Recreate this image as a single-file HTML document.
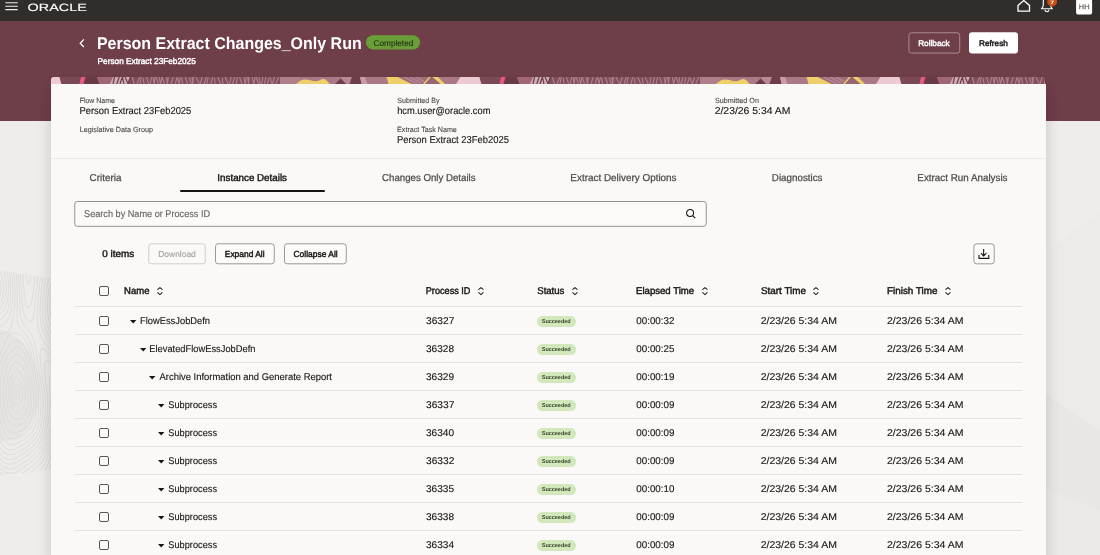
<!DOCTYPE html>
<html lang="en">
<head>
<meta charset="utf-8">
<title>Person Extract Changes_Only Run</title>
<style>
*{box-sizing:border-box;margin:0;padding:0}
html,body{width:1100px;height:555px;overflow:hidden}
body{font-family:"Liberation Sans",sans-serif;background:#efedeb;color:#161513;position:relative;text-rendering:geometricPrecision}
.abs,.t,.hl,.cb,.st,.a{position:absolute}
.t{white-space:pre;transform-origin:0 0;font-weight:400;margin:0}
.hl{left:75px;width:947px;height:1px;background:#e4e1de}
.cb{left:99px;width:10px;height:10px;border:1px solid #57524e;border-radius:2px;background:#fdfcfc}
.st{left:537px;width:38.5px;height:11px;border-radius:5.5px;background:#d2e7bc}
.a{overflow:visible}
</style>
</head>
<body>

<div class="abs" style="left:0;top:0;width:1100px;height:21px;background:#312d2a"></div>
<div class="abs" style="left:0;top:21px;width:1100px;height:100px;background:#6e3e49"></div>
<svg class="abs" style="left:0;top:121px" width="51" height="434" viewBox="0 121 51 434" fill="none">
<defs><clipPath id="lc"><path d="M0 270.5L51 278V470L0 476Z"/></clipPath></defs>
<g clip-path="url(#lc)">
<path d="M0 270.5L51 278V470L0 476Z" fill="#edebe9"/>
<path d="M0 330C14 332 30 345 38 372C44 396 36 424 20 436C12 441 4 442 0 442Z" fill="#e6e4e1"/>
<path d="M16.3 393.0L16.7 392.0L16.3 391.0L16.0 390.6L15.8 391.0L15.5 392.0L15.8 393.0L16.0 393.4L16.3 393.0M-4.0 297.4L-3.0 296.0L-2.6 295.0L-2.0 293.0L-1.8 292.0L-1.7 290.0L-1.7 288.0L-2.0 286.3L-2.3 285.0L-3.0 283.4L-4.0 282.1M17.2 399.0L18.2 398.0L19.0 396.2L19.3 395.0L19.5 393.0L19.5 391.0L19.3 389.0L19.0 387.9L18.2 386.0L17.4 385.0L16.0 384.6L15.0 385.4L14.1 387.0L13.8 388.0L13.4 390.0L13.3 392.0L13.5 394.0L13.9 396.0L14.3 397.0L15.0 398.4L16.0 399.1L17.2 399.0M-4.0 301.9L-2.9 301.0L-2.0 300.0L-1.0 298.3L-0.4 297.0L0.0 295.7L0.4 294.0L0.8 292.0L1.0 290.0L1.0 289.0L1.0 287.0L1.0 286.0L0.7 284.0L0.4 282.0L0.0 280.7L-0.7 279.0L-1.2 278.0L-2.0 276.8L-3.0 275.9M18.7 405.0L19.7 404.0L20.4 403.0L21.0 401.7L21.6 400.0L22.0 398.2L22.2 397.0L22.4 395.0L22.5 393.0L22.4 391.0L22.3 389.0L22.0 387.0L21.8 386.0L21.3 384.0L21.0 382.9L20.2 381.0L19.7 380.0L18.9 379.0L17.5 378.0L16.0 377.9L15.0 378.5L14.0 379.6L13.2 381.0L12.7 382.0L12.1 384.0L11.8 385.0L11.4 387.0L11.2 389.0L11.1 391.0L11.1 393.0L11.2 395.0L11.5 397.0L11.9 399.0L12.2 400.0L12.9 402.0L13.5 403.0L14.1 404.0L15.2 405.0L17.0 405.7L18.7 405.0M-4.0 306.3L-3.0 305.8L-1.9 305.0L-0.9 304.0L0.0 302.8L1.0 301.0L1.4 300.0L2.0 298.5L2.5 297.0L2.9 295.0L3.1 294.0L3.4 292.0L3.6 290.0L3.7 288.0L3.7 286.0L3.6 284.0L3.4 282.0L3.1 280.0L2.9 279.0L2.4 277.0L2.0 275.9L1.2 274.0L0.7 273.0L0.0 271.9L-1.0 270.8L-2.0 270.0L-4.0 269.3M56.0 298.6L55.8 300.0L55.6 302.0L55.5 304.0L55.5 306.0L55.6 308.0L55.8 310.0L56.0 311.5M19.2 412.0L20.6 411.0L21.5 410.0L22.3 409.0L23.0 407.7L23.7 406.0L24.1 405.0L24.6 403.0L25.0 401.0L25.1 400.0L25.3 398.0L25.4 396.0L25.4 394.0L25.4 392.0L25.3 390.0L25.1 388.0L25.0 387.0L24.7 385.0L24.3 383.0L24.0 381.6L23.6 380.0L23.0 378.0L22.6 377.0L22.0 375.4L21.3 374.0L20.7 373.0L20.0 372.0L19.0 371.0L17.0 370.2L15.0 370.9L14.0 371.7L13.0 373.0L12.4 374.0L11.8 375.0L11.0 377.0L10.6 378.0L10.0 380.0L9.8 381.0L9.4 383.0L9.1 385.0L9.0 386.0L8.8 388.0L8.7 390.0L8.6 392.0L8.7 394.0L8.8 396.0L9.0 397.7L9.2 399.0L9.5 401.0L10.0 403.0L10.2 404.0L10.9 406.0L11.3 407.0L12.0 408.5L13.0 410.0L13.8 411.0L15.0 411.9L16.0 412.4L18.0 412.5L19.2 412.0M-4.0 311.0L-3.0 310.6L-1.8 310.0L-0.5 309.0L0.4 308.0L1.2 307.0L2.0 305.9L3.0 304.0L3.4 303.0L4.0 301.6L4.5 300.0L5.0 298.1L5.2 297.0L5.6 295.0L5.9 293.0L6.0 291.5L6.1 290.0L6.2 288.0L6.2 286.0L6.1 284.0L6.0 282.0L5.9 281.0L5.7 279.0L5.3 277.0L5.0 275.4L4.7 274.0L4.1 272.0L3.7 271.0L3.0 269.4L2.2 268.0L1.5 267.0L0.7 266.0L-0.4 265.0L-2.0 264.1L-3.0 263.9M56.0 287.7L55.5 289.0L55.0 290.2L54.4 292.0L54.0 293.5L53.6 295.0L53.3 297.0L53.0 298.6L52.8 300.0L52.6 302.0L52.5 304.0L52.5 306.0L52.6 308.0L52.7 310.0L53.0 312.0L53.1 313.0L53.5 315.0L54.0 317.0L54.3 318.0L55.0 319.9L55.5 321.0L56.0 322.1M19.4 419.0L21.0 418.1L22.0 417.4L23.0 416.4L24.0 415.2L24.7 414.0L25.3 413.0L26.0 411.5L26.6 410.0L27.0 408.6L27.4 407.0L27.8 405.0L28.0 403.3L28.1 402.0L28.3 400.0L28.3 398.0L28.3 396.0L28.3 394.0L28.2 392.0L28.0 390.0L27.9 389.0L27.7 387.0L27.4 385.0L27.1 383.0L26.9 382.0L26.6 380.0L26.1 378.0L25.9 377.0L25.4 375.0L25.0 373.6L24.5 372.0L24.0 370.5L23.4 369.0L23.0 368.0L22.0 366.1L21.3 365.0L20.5 364.0L19.3 363.0L18.0 362.3L16.0 362.3L14.7 363.0L13.5 364.0L12.6 365.0L11.9 366.0L11.0 367.5L10.2 369.0L9.8 370.0L9.0 372.0L8.7 373.0L8.1 375.0L7.8 376.0L7.3 378.0L7.0 379.8L6.8 381.0L6.5 383.0L6.3 385.0L6.2 387.0L6.1 389.0L6.0 391.0L6.0 393.0L6.1 395.0L6.2 397.0L6.4 399.0L6.6 401.0L6.9 403.0L7.1 404.0L7.5 406.0L7.9 408.0L8.2 409.0L8.8 411.0L9.2 412.0L10.0 413.9L10.6 415.0L11.2 416.0L12.0 417.0L13.0 418.0L14.6 419.0L16.0 419.4L18.0 419.4L19.4 419.0M-4.0 316.0L-3.0 315.7L-1.3 315.0L0.0 314.1L1.0 313.3L2.0 312.3L3.0 311.0L3.7 310.0L4.3 309.0L5.0 307.6L5.7 306.0L6.0 305.0L6.6 303.0L7.0 301.6L7.4 300.0L7.7 298.0L8.0 296.0L8.1 295.0L8.3 293.0L8.4 291.0L8.5 289.0L8.5 287.0L8.5 285.0L8.4 283.0L8.3 281.0L8.1 279.0L8.0 277.9L7.7 276.0L7.4 274.0L7.0 272.2L6.7 271.0L6.1 269.0L5.8 268.0L5.0 266.1L4.5 265.0L3.9 264.0L3.0 262.5M56.0 280.3L55.0 282.0L54.5 283.0L54.0 284.1L53.2 286.0L52.8 287.0L52.2 289.0L51.9 290.0L51.4 292.0L51.0 293.8L50.8 295.0L50.5 297.0L50.2 299.0L50.0 301.0L50.0 302.0L49.9 304.0L49.8 306.0L49.9 308.0L50.0 310.0L50.1 311.0L50.3 313.0L50.6 315.0L51.0 317.0L51.2 318.0L51.8 320.0L52.1 321.0L52.8 323.0L53.2 324.0L54.0 325.6L54.8 327.0L55.4 328.0M17.9 426.0L19.0 425.7L20.6 425.0L22.0 424.2L23.0 423.4L24.0 422.6L25.0 421.5L26.0 420.3L26.9 419.0L27.5 418.0L28.0 417.0L28.9 415.0L29.2 414.0L29.8 412.0L30.1 411.0L30.5 409.0L30.7 407.0L31.0 405.0L31.0 404.0L31.1 402.0L31.1 400.0L31.1 398.0L31.1 396.0L31.0 395.0L30.9 393.0L30.7 391.0L30.5 389.0L30.2 387.0L30.0 385.2L29.8 384.0L29.5 382.0L29.2 380.0L29.0 379.0L28.6 377.0L28.2 375.0L28.0 374.0L27.5 372.0L27.0 370.0L26.8 369.0L26.2 367.0L25.9 366.0L25.2 364.0L24.8 363.0L24.0 361.0L23.5 360.0L23.0 359.0L22.0 357.5L21.0 356.3L20.0 355.4L19.0 354.8L17.0 354.4L15.0 355.0L14.0 355.6L13.0 356.5L12.0 357.6L11.0 358.9L10.3 360.0L9.7 361.0L9.0 362.3L8.2 364.0L7.7 365.0L7.0 366.8L6.6 368.0L6.0 369.8L5.6 371.0L5.1 373.0L4.9 374.0L4.5 376.0L4.1 378.0L4.0 379.0L3.7 381.0L3.5 383.0L3.4 385.0L3.3 387.0L3.2 389.0L3.2 391.0L3.2 393.0L3.3 395.0L3.4 397.0L3.5 399.0L3.7 401.0L3.9 403.0L4.0 404.0L4.3 406.0L4.6 408.0L5.0 410.0L5.2 411.0L5.6 413.0L6.0 414.5L6.4 416.0L7.0 417.7L7.5 419.0L8.0 420.0L9.0 421.9L9.8 423.0L10.7 424.0L11.9 425.0L13.0 425.6L14.2 426.0L16.0 426.2L17.9 426.0M-4.0 321.5L-2.2 321.0L-1.0 320.5L0.1 320.0L1.6 319.0L2.8 318.0L3.7 317.0L4.6 316.0L5.3 315.0L6.0 313.8L6.9 312.0L7.3 311.0L8.0 309.2L8.4 308.0L8.9 306.0L9.1 305.0L9.5 303.0L9.9 301.0L10.0 300.0L10.3 298.0L10.5 296.0L10.6 294.0L10.7 292.0L10.8 290.0L10.8 288.0L10.8 286.0L10.7 284.0L10.6 282.0L10.5 280.0L10.3 278.0L10.1 276.0L9.9 275.0L9.6 273.0L9.2 271.0L9.0 269.8L8.5 268.0L8.0 266.1L7.6 265.0L7.0 263.4L6.4 262.0M56.0 273.5L55.0 274.8L54.2 276.0L53.6 277.0L53.0 278.2L52.1 280.0L51.7 281.0L51.0 282.9L50.6 284.0L50.0 286.0L49.7 287.0L49.3 289.0L49.0 290.2L48.6 292.0L48.3 294.0L48.0 296.0L47.9 297.0L47.7 299.0L47.5 301.0L47.4 303.0L47.4 305.0L47.3 307.0L47.4 309.0L47.5 311.0L47.7 313.0L47.9 315.0L48.1 316.0L48.4 318.0L48.9 320.0L49.1 321.0L49.7 323.0L50.1 324.0L50.8 326.0L51.2 327.0L52.0 328.6L52.7 330.0L53.3 331.0L54.0 332.1L55.0 333.5L56.0 334.7M18.1 432.0L20.0 431.2L21.0 430.7L22.3 430.0L23.8 429.0L25.0 428.0L26.0 427.1L27.0 426.0L27.8 425.0L28.6 424.0L29.2 423.0L30.0 421.6L30.8 420.0L31.2 419.0L31.9 417.0L32.2 416.0L32.7 414.0L33.0 412.5L33.2 411.0L33.5 409.0L33.7 407.0L33.8 405.0L33.8 403.0L33.8 401.0L33.7 399.0L33.6 397.0L33.5 395.0L33.3 393.0L33.1 391.0L33.0 389.9L32.8 388.0L32.5 386.0L32.2 384.0L32.0 382.6L31.8 381.0L31.4 379.0L31.1 377.0L30.9 376.0L30.5 374.0L30.1 372.0L29.9 371.0L29.5 369.0L29.0 367.0L28.8 366.0L28.3 364.0L28.0 362.9L27.4 361.0L27.0 359.6L26.4 358.0L26.0 356.8L25.2 355.0L24.7 354.0L24.0 352.6L23.0 351.0L22.2 350.0L21.2 349.0L20.0 348.1L19.0 347.6L17.0 347.3L15.0 347.8L14.0 348.4L13.0 349.1L12.0 350.1L11.0 351.2L10.0 352.5L9.0 354.0L8.4 355.0L7.8 356.0L7.0 357.5L6.3 359.0L5.8 360.0L5.0 361.9L4.5 363.0L4.0 364.5L3.5 366.0L3.0 367.5L2.6 369.0L2.1 371.0L1.8 372.0L1.4 374.0L1.1 376.0L1.0 377.0L0.7 379.0L0.5 381.0L0.4 383.0L0.3 385.0L0.3 387.0L0.2 389.0L0.3 391.0L0.3 393.0L0.4 395.0L0.5 397.0L0.6 399.0L0.8 401.0L1.0 403.0L1.1 404.0L1.3 406.0L1.5 408.0L1.8 410.0L2.0 411.5L2.2 413.0L2.6 415.0L3.0 417.0L3.2 418.0L3.7 420.0L4.0 421.1L4.6 423.0L5.0 424.1L5.8 426.0L6.3 427.0L7.0 428.2L8.0 429.5L9.0 430.6L10.0 431.3L11.2 432.0L13.0 432.5L15.0 432.6L17.0 432.3L18.1 432.0M-4.0 327.5L-2.0 327.1L-1.0 326.8L0.9 326.0L2.0 325.4L3.0 324.8L4.0 324.0L5.1 323.0L6.0 322.0L7.0 320.7L8.0 319.1L8.6 318.0L9.0 317.0L9.8 315.0L10.1 314.0L10.7 312.0L11.0 310.7L11.3 309.0L11.7 307.0L12.0 305.0L12.1 304.0L12.3 302.0L12.5 300.0L12.7 298.0L12.8 296.0L12.9 294.0L12.9 292.0L12.9 290.0L12.9 288.0L12.9 286.0L12.8 284.0L12.7 282.0L12.6 280.0L12.4 278.0L12.2 276.0L12.0 274.0L11.9 273.0L11.6 271.0L11.2 269.0L11.0 268.0L10.5 266.0L10.0 264.2L9.6 263.0M56.0 266.6L55.0 267.7L54.0 268.9L53.2 270.0L52.6 271.0L52.0 272.0L51.0 273.9L50.5 275.0L50.0 276.2L49.3 278.0L49.0 279.0L48.4 281.0L48.0 282.4L47.6 284.0L47.2 286.0L47.0 287.0L46.6 289.0L46.2 291.0L46.0 292.6L45.8 294.0L45.6 296.0L45.4 298.0L45.2 300.0L45.1 302.0L45.0 303.6L45.0 305.0L44.9 307.0L45.0 309.0L45.0 310.3L45.1 312.0L45.2 314.0L45.5 316.0L45.8 318.0L46.0 319.3L46.3 321.0L46.8 323.0L47.1 324.0L47.8 326.0L48.1 327.0L48.9 329.0L49.4 330.0L50.0 331.3L50.9 333.0L51.5 334.0L52.1 335.0L53.0 336.4L54.0 337.7L55.0 339.0L55.9 340.0M16.8 438.0L18.0 437.6L19.3 437.0L21.0 436.2L22.0 435.6L23.0 435.0L24.5 434.0L25.8 433.0L26.9 432.0L27.9 431.0L28.9 430.0L29.7 429.0L30.4 428.0L31.1 427.0L32.0 425.4L32.7 424.0L33.2 423.0L33.9 421.0L34.3 420.0L34.8 418.0L35.1 417.0L35.5 415.0L35.8 413.0L36.0 411.3L36.1 410.0L36.3 408.0L36.3 406.0L36.3 404.0L36.3 402.0L36.2 400.0L36.1 398.0L36.0 396.5L35.9 395.0L35.7 393.0L35.4 391.0L35.2 389.0L35.0 387.6L34.8 386.0L34.5 384.0L34.2 382.0L34.0 380.8L33.7 379.0L33.4 377.0L33.0 375.0L32.8 374.0L32.5 372.0L32.1 370.0L31.9 369.0L31.5 367.0L31.1 365.0L30.9 364.0L30.4 362.0L30.0 360.2L29.7 359.0L29.1 357.0L28.9 356.0L28.2 354.0L27.9 353.0L27.1 351.0L26.7 350.0L26.0 348.5L25.2 347.0L24.5 346.0L23.9 345.0L23.0 343.9L22.0 342.9L20.8 342.0L19.0 341.0L18.0 340.8L16.0 340.8L15.0 341.0L13.1 342.0L12.0 342.8L11.0 343.8L10.0 345.0L9.2 346.0L8.5 347.0L7.8 348.0L7.0 349.3L6.1 351.0L5.5 352.0L5.0 353.0L4.0 355.0L3.5 356.0L3.0 357.1L2.2 359.0L1.8 360.0L1.0 362.0L0.7 363.0L0.0 365.0L-0.3 366.0L-0.9 368.0L-1.1 369.0L-1.5 371.0L-1.9 373.0L-2.1 374.0L-2.3 376.0L-2.5 378.0L-2.7 380.0L-2.8 382.0L-2.8 384.0L-2.8 386.0L-2.8 388.0L-2.8 390.0L-2.7 392.0L-2.6 394.0L-2.4 396.0L-2.3 398.0L-2.1 400.0L-2.0 401.7L-1.9 403.0L-1.7 405.0L-1.5 407.0L-1.3 409.0L-1.0 411.0L-0.9 412.0L-0.6 414.0L-0.3 416.0L-0.0 418.0L0.1 419.0L0.5 421.0L0.9 423.0L1.2 424.0L1.7 426.0L2.0 427.1L2.6 429.0L3.0 430.0L3.9 432.0L4.4 433.0L5.0 434.0L6.0 435.3L7.0 436.4L8.0 437.2L9.4 438.0L11.0 438.6L13.0 438.7L15.0 438.5L16.8 438.0M-4.0 334.4L-2.0 334.2L-0.7 334.0L1.0 333.7L3.0 333.3L4.5 333.0L6.0 332.7L8.0 332.0L9.0 331.2L9.7 330.0L10.1 329.0L10.8 327.0L11.1 326.0L11.7 324.0L12.0 322.8L12.4 321.0L12.8 319.0L13.0 318.0L13.4 316.0L13.7 314.0L14.0 312.0L14.1 311.0L14.3 309.0L14.5 307.0L14.6 305.0L14.8 303.0L14.9 301.0L14.9 299.0L15.0 297.0L15.0 296.0L15.0 294.0L15.0 292.0L15.0 290.0L15.0 288.2L15.0 287.0L14.9 285.0L14.8 283.0L14.7 281.0L14.6 279.0L14.4 277.0L14.2 275.0L14.0 273.1L13.9 272.0L13.6 270.0L13.2 268.0L13.0 266.8L12.6 265.0L12.1 263.0L11.8 262.0M53.1 262.0L52.3 263.0L51.6 264.0L50.9 265.0L50.0 266.6L49.3 268.0L48.9 269.0L48.1 271.0L47.8 272.0L47.2 274.0L46.9 275.0L46.3 277.0L46.0 278.4L45.6 280.0L45.2 282.0L45.0 283.2L44.7 285.0L44.4 287.0L44.1 289.0L43.9 290.0L43.6 292.0L43.4 294.0L43.2 296.0L43.0 298.0L42.9 299.0L42.8 301.0L42.7 303.0L42.6 305.0L42.5 307.0L42.5 309.0L42.6 311.0L42.7 313.0L42.8 315.0L43.0 317.0L43.1 318.0L43.4 320.0L43.8 322.0L44.0 323.0L44.5 325.0L45.0 326.7L45.4 328.0L46.0 329.6L46.6 331.0L47.0 332.0L48.0 334.0L48.5 335.0L49.1 336.0L50.0 337.6L50.9 339.0L51.6 340.0L52.3 341.0L53.1 342.0L54.0 343.2L55.0 344.3L56.0 345.4M-4.0 408.6L-3.8 410.0L-3.6 412.0L-3.4 414.0L-3.1 416.0L-3.0 417.0L-2.7 419.0L-2.4 421.0L-2.1 423.0L-1.9 424.0L-1.5 426.0L-1.0 428.0L-0.8 429.0L-0.3 431.0L0.0 432.0L0.7 434.0L1.1 435.0L2.0 437.0L2.5 438.0L3.1 439.0L4.0 440.3L5.0 441.5L6.0 442.4L7.0 443.2L8.8 444.0L10.0 444.3L12.0 444.4L14.0 444.1L15.0 443.9L17.0 443.2L18.0 442.7L19.5 442.0L21.0 441.2L22.0 440.6L23.0 440.0L24.6 439.0L25.9 438.0L27.0 437.2L28.0 436.3L29.0 435.4L30.0 434.4L31.0 433.2L31.9 432.0L32.6 431.0L33.2 430.0L34.0 428.7L34.8 427.0L35.2 426.0L36.0 424.0L36.3 423.0L36.9 421.0L37.2 420.0L37.6 418.0L38.0 416.0L38.1 415.0L38.4 413.0L38.5 411.0L38.7 409.0L38.7 407.0L38.7 405.0L38.7 403.0L38.6 401.0L38.5 399.0L38.3 397.0L38.1 395.0L38.0 393.8L37.8 392.0L37.5 390.0L37.3 388.0L37.0 386.1L36.8 385.0L36.5 383.0L36.2 381.0L36.0 379.6L35.7 378.0L35.4 376.0L35.1 374.0L34.9 373.0L34.6 371.0L34.2 369.0L34.0 367.9L33.7 366.0L33.3 364.0L33.0 362.5L32.7 361.0L32.3 359.0L32.0 357.8L31.6 356.0L31.1 354.0L30.8 353.0L30.2 351.0L29.9 350.0L29.2 348.0L28.8 347.0L28.0 345.0L27.5 344.0L27.0 342.9L26.0 341.2L25.2 340.0L24.4 339.0L23.5 338.0L22.6 337.0L21.4 336.0L20.0 335.0L19.0 334.5L18.0 334.0L16.0 333.3L14.1 333.0L13.0 332.9L11.4 333.0L10.0 333.4L9.0 334.4L8.2 336.0L7.7 337.0L7.0 338.6L6.4 340.0L5.9 341.0L5.0 343.0L4.6 344.0L4.0 345.3L3.2 347.0L2.7 348.0L2.0 349.6L1.4 351.0L0.9 352.0L0.1 354.0L-0.4 355.0L-1.0 356.6L-1.6 358.0L-2.0 359.1L-2.7 361.0L-3.0 362.1L-3.6 364.0L-4.0 365.5M-4.0 427.1L-3.6 429.0L-3.2 431.0L-3.0 432.0L-2.5 434.0L-2.0 435.6L-1.5 437.0L-1.0 438.5L-0.4 440.0L0.0 441.0L1.0 442.9L1.7 444.0L2.4 445.0L3.2 446.0L4.2 447.0L5.4 448.0L7.0 449.0L8.0 449.4L10.0 449.8L12.0 449.7L14.0 449.3L15.0 448.9L17.0 448.1L18.0 447.6L19.2 447.0L21.0 446.0L22.0 445.4L23.0 444.8L24.2 444.0L25.7 443.0L27.0 442.0L28.0 441.2L29.0 440.4L30.0 439.5L31.0 438.5L32.0 437.4L33.0 436.2L33.9 435.0L34.5 434.0L35.1 433.0L36.0 431.4L36.7 430.0L37.1 429.0L37.9 427.0L38.2 426.0L38.8 424.0L39.1 423.0L39.5 421.0L39.9 419.0L40.1 418.0L40.4 416.0L40.6 414.0L40.8 412.0L40.9 410.0L41.0 408.0L41.0 407.0L41.0 405.8L41.0 404.0L40.9 402.0L40.8 400.0L40.6 398.0L40.4 396.0L40.2 394.0L40.0 392.0L39.9 391.0L39.6 389.0L39.3 387.0L39.0 385.0L38.9 384.0L38.6 382.0L38.2 380.0L38.0 378.6L37.7 377.0L37.4 375.0L37.1 373.0L36.9 372.0L36.6 370.0L36.3 368.0L36.0 366.3L35.8 365.0L35.4 363.0L35.1 361.0L34.9 360.0L34.5 358.0L34.2 356.0L34.0 355.0L33.5 353.0L33.1 351.0L32.8 350.0L32.3 348.0L32.0 346.9L31.4 345.0L31.0 343.8L30.3 342.0L29.9 341.0L29.0 339.2L28.4 338.0L27.8 337.0L27.0 335.8L26.0 334.4L25.0 333.1L24.0 332.0L23.1 331.0L22.1 330.0L21.2 329.0L20.3 328.0L19.4 327.0L18.8 326.0L18.0 324.4L17.6 323.0L17.2 321.0L17.0 319.0L17.0 318.0L17.0 316.0L17.0 314.0L17.0 313.0L17.0 311.0L17.1 309.0L17.1 307.0L17.2 305.0L17.2 303.0L17.2 301.0L17.2 299.0L17.2 297.0L17.2 295.0L17.2 293.0L17.1 291.0L17.1 289.0L17.0 287.0L17.0 286.0L16.9 284.0L16.8 282.0L16.7 280.0L16.5 278.0L16.4 276.0L16.2 274.0L16.0 272.5L15.8 271.0L15.5 269.0L15.2 267.0L15.0 265.8L14.6 264.0L14.2 262.0M47.1 262.0L46.7 263.0L46.1 265.0L45.8 266.0L45.2 268.0L45.0 269.0L44.5 271.0L44.1 273.0L43.9 274.0L43.5 276.0L43.2 278.0L43.0 279.0L42.7 281.0L42.4 283.0L42.1 285.0L42.0 286.0L41.7 288.0L41.5 290.0L41.3 292.0L41.0 294.0L40.9 295.0L40.8 297.0L40.6 299.0L40.4 301.0L40.3 303.0L40.2 305.0L40.1 307.0L40.1 309.0L40.1 311.0L40.1 313.0L40.2 315.0L40.3 317.0L40.5 319.0L40.7 321.0L41.0 322.8L41.2 324.0L41.7 326.0L42.0 327.3L42.5 329.0L43.0 330.5L43.6 332.0L44.0 333.0L44.9 335.0L45.4 336.0L46.0 337.1L47.0 338.8L47.7 340.0L48.4 341.0L49.0 342.0L50.0 343.4L51.0 344.8L51.9 346.0L52.7 347.0L53.6 348.0L54.4 349.0L55.3 350.0M-4.0 438.5L-3.5 440.0L-3.0 441.5L-2.4 443.0L-2.0 444.0L-1.0 446.0L-0.5 447.0L0.1 448.0L1.0 449.3L2.0 450.6L3.0 451.6L4.0 452.5L5.0 453.2L6.5 454.0L8.0 454.5L10.0 454.8L12.0 454.6L14.0 454.1L15.0 453.8L16.7 453.0L18.0 452.3L19.0 451.8L20.3 451.0L22.0 450.0L23.0 449.3L24.0 448.7L25.0 448.0L26.5 447.0L27.8 446.0L29.0 445.1L30.0 444.3L31.0 443.4L32.0 442.4L33.0 441.3L34.0 440.2L34.9 439.0L35.6 438.0L36.2 437.0L37.0 435.7L37.9 434.0L38.3 433.0L39.0 431.4L39.5 430.0L40.0 428.6L40.5 427.0L41.0 425.2L41.3 424.0L41.7 422.0L42.0 420.6L42.3 419.0L42.6 417.0L42.8 415.0L43.0 413.0L43.0 412.0L43.1 410.0L43.2 408.0L43.2 406.0L43.2 404.0L43.1 402.0L43.0 400.2L42.9 399.0L42.8 397.0L42.6 395.0L42.3 393.0L42.1 391.0L41.9 390.0L41.7 388.0L41.4 386.0L41.1 384.0L40.9 383.0L40.6 381.0L40.3 379.0L40.0 377.2L39.8 376.0L39.5 374.0L39.2 372.0L39.0 370.8L38.7 369.0L38.4 367.0L38.1 365.0L38.0 364.0L37.7 362.0L37.4 360.0L37.1 358.0L37.0 357.0L36.7 355.0L36.4 353.0L36.1 351.0L35.9 350.0L35.6 348.0L35.2 346.0L35.0 345.0L34.5 343.0L34.0 341.0L33.7 340.0L33.0 338.1L32.6 337.0L32.0 335.8L31.0 334.0L30.4 333.0L29.7 332.0L29.0 331.0L28.0 329.7L27.0 328.5L26.0 327.3L25.0 326.1L24.2 325.0L23.5 324.0L22.9 323.0L22.0 321.3L21.5 320.0L21.0 318.5L20.7 317.0L20.3 315.0L20.1 313.0L20.0 311.5L19.9 310.0L19.8 308.0L19.7 306.0L19.7 304.0L19.6 302.0L19.5 300.0L19.5 298.0L19.4 296.0L19.3 294.0L19.3 292.0L19.2 290.0L19.1 288.0L19.0 286.0L19.0 285.0L18.9 283.0L18.8 281.0L18.6 279.0L18.5 277.0L18.3 275.0L18.1 273.0L18.0 271.7L17.8 270.0L17.5 268.0L17.2 266.0L17.0 264.6L16.7 263.0M42.8 262.0L42.4 264.0L42.1 266.0L41.9 267.0L41.6 269.0L41.3 271.0L41.0 273.0L40.9 274.0L40.7 276.0L40.4 278.0L40.2 280.0L40.0 281.5L39.8 283.0L39.6 285.0L39.4 287.0L39.2 289.0L39.0 290.5L38.8 292.0L38.6 294.0L38.4 296.0L38.2 298.0L38.1 300.0L38.0 301.0L37.8 303.0L37.7 305.0L37.5 307.0L37.4 309.0L37.3 311.0L37.3 313.0L37.3 315.0L37.3 317.0L37.3 319.0L37.4 321.0L37.6 323.0L37.8 325.0L38.0 326.5L38.3 328.0L38.7 330.0L39.0 331.0L39.7 333.0L40.1 334.0L41.0 336.0L41.5 337.0L42.1 338.0L43.0 339.5L44.0 341.0L44.6 342.0L45.3 343.0L46.1 344.0L47.0 345.3L48.0 346.6L49.0 347.9L49.8 349.0L50.6 350.0L51.4 351.0L52.2 352.0L53.1 353.0L54.0 354.1L55.0 355.3L56.0 356.5M39.2 262.0L39.0 264.0L38.9 265.0L38.7 267.0L38.5 269.0L38.3 271.0L38.1 273.0L38.0 274.5L37.9 276.0L37.7 278.0L37.5 280.0L37.3 282.0L37.1 284.0L37.0 285.1L36.8 287.0L36.6 289.0L36.4 291.0L36.2 293.0L36.0 294.6L35.8 296.0L35.6 298.0L35.4 300.0L35.2 302.0L35.0 303.5L34.8 305.0L34.6 307.0L34.3 309.0L34.1 311.0L34.0 312.0L33.7 314.0L33.4 316.0L33.0 318.0L32.7 319.0L32.0 320.8L31.0 321.7L29.0 321.4L28.0 320.7L27.0 319.7L26.0 318.4L25.2 317.0L24.7 316.0L24.0 314.1L23.7 313.0L23.2 311.0L23.0 309.7L22.8 308.0L22.5 306.0L22.3 304.0L22.1 302.0L22.0 300.1L21.9 299.0L21.8 297.0L21.7 295.0L21.6 293.0L21.5 291.0L21.3 289.0L21.2 287.0L21.1 285.0L21.0 283.0L20.9 282.0L20.8 280.0L20.7 278.0L20.5 276.0L20.4 274.0L20.2 272.0L20.0 270.1L19.9 269.0L19.6 267.0L19.3 265.0L19.0 263.0L18.8 262.0M-4.0 446.5L-3.3 448.0L-2.9 449.0L-2.0 450.6L-1.2 452.0L-0.5 453.0L0.3 454.0L1.1 455.0L2.1 456.0L3.2 457.0L4.7 458.0L6.0 458.7L7.0 459.1L9.0 459.5L11.0 459.5L13.0 459.1L14.0 458.8L16.0 458.0L17.0 457.5L18.0 457.0L19.6 456.0L21.0 455.1L22.0 454.5L23.0 453.8L24.3 453.0L25.7 452.0L27.0 451.1L28.0 450.4L29.0 449.6L30.0 448.9L31.0 448.0L32.2 447.0L33.2 446.0L34.1 445.0L35.0 444.0L36.0 442.7L37.0 441.3L37.8 440.0L38.4 439.0L39.0 437.8L39.9 436.0L40.3 435.0L41.0 433.2L41.4 432.0L42.0 430.2L42.4 429.0L42.9 427.0L43.2 426.0L43.6 424.0L44.0 422.0L44.2 421.0L44.5 419.0L44.8 417.0L45.0 415.0L45.1 414.0L45.2 412.0L45.3 410.0L45.4 408.0L45.4 406.0L45.4 404.0L45.3 402.0L45.2 400.0L45.1 398.0L45.0 397.0L44.8 395.0L44.6 393.0L44.4 391.0L44.1 389.0L44.0 388.0L43.7 386.0L43.4 384.0L43.1 382.0L42.9 381.0L42.6 379.0L42.3 377.0L42.0 375.0L41.9 374.0L41.6 372.0L41.4 370.0L41.1 368.0L41.0 367.0L40.8 365.0L40.6 363.0L40.4 361.0L40.2 359.0L40.1 357.0L40.1 355.0L40.2 353.0L40.4 351.0L41.0 349.4L42.0 348.7L43.1 349.0L44.7 350.0L45.9 351.0L46.9 352.0L47.9 353.0L48.8 354.0L49.7 355.0L50.5 356.0L51.4 357.0L52.2 358.0L53.0 359.0L54.0 360.2L55.0 361.5L56.0 362.7M35.8 262.0L35.7 264.0L35.6 266.0L35.4 268.0L35.3 270.0L35.2 272.0L35.1 274.0L35.0 275.0L34.8 277.0L34.7 279.0L34.5 281.0L34.3 283.0L34.1 285.0L34.0 286.3L33.8 288.0L33.6 290.0L33.3 292.0L33.0 294.0L32.9 295.0L32.5 297.0L32.2 299.0L32.0 300.0L31.5 302.0L31.0 303.9L30.6 305.0L30.0 306.4L29.0 307.5L27.6 307.0L26.9 306.0L26.1 304.0L25.8 303.0L25.4 301.0L25.0 299.1L24.8 298.0L24.6 296.0L24.4 294.0L24.1 292.0L24.0 290.5L23.9 289.0L23.7 287.0L23.6 285.0L23.4 283.0L23.3 281.0L23.2 279.0L23.0 277.0L22.9 276.0L22.8 274.0L22.6 272.0L22.4 270.0L22.2 268.0L22.0 266.3L21.8 265.0L21.5 263.0M-4.0 453.0L-3.4 454.0L-2.8 455.0L-2.0 456.3L-1.0 457.6L0.0 458.8L1.0 459.9L2.0 460.8L3.0 461.6L4.0 462.3L5.2 463.0L7.0 463.7L8.1 464.0L10.0 464.2L12.0 464.0L13.0 463.8L15.0 463.1L16.0 462.6L17.2 462.0L19.0 461.0L20.0 460.3L21.0 459.7L22.0 459.0L23.5 458.0L25.0 457.0L26.0 456.3L27.0 455.6L28.0 454.9L29.2 454.0L30.5 453.0L31.7 452.0L32.9 451.0L34.0 450.0L34.9 449.0L35.8 448.0L36.6 447.0L37.4 446.0L38.1 445.0L39.0 443.5L39.9 442.0L40.4 441.0L41.0 439.7L41.7 438.0L42.1 437.0L42.9 435.0L43.2 434.0L43.8 432.0L44.1 431.0L44.7 429.0L45.0 427.7L45.4 426.0L45.8 424.0L46.0 422.9L46.3 421.0L46.6 419.0L46.9 417.0L47.0 416.0L47.2 414.0L47.4 412.0L47.5 410.0L47.6 408.0L47.7 406.0L47.7 404.0L47.6 402.0L47.6 400.0L47.5 398.0L47.3 396.0L47.2 394.0L47.0 392.4L46.9 391.0L46.6 389.0L46.4 387.0L46.1 385.0L46.0 384.0L45.7 382.0L45.5 380.0L45.2 378.0L45.0 376.3L44.9 375.0L44.7 373.0L44.5 371.0L44.4 369.0L44.4 367.0L44.4 365.0L44.7 363.0L45.0 362.0L46.0 360.9L47.4 361.0L49.0 361.9L50.0 362.8L51.0 363.8L52.0 364.9L52.9 366.0L53.7 367.0L54.5 368.0L55.2 369.0L56.0 370.0M32.0 262.0L31.8 264.0L31.7 266.0L31.5 268.0L31.4 270.0L31.3 272.0L31.1 274.0L31.0 275.4L30.8 277.0L30.5 279.0L30.2 281.0L30.0 282.1L29.3 284.0L28.0 284.2L27.7 283.0L27.2 281.0L27.0 280.0L26.7 278.0L26.5 276.0L26.2 274.0L26.0 272.2L25.9 271.0L25.7 269.0L25.4 267.0L25.1 265.0L25.0 264.0L24.7 262.0M-4.0 458.6L-3.0 460.0L-2.3 461.0L-1.5 462.0L-0.6 463.0L0.4 464.0L1.5 465.0L2.7 466.0L4.0 466.9L5.0 467.4L6.3 468.0L8.0 468.5L10.0 468.8L12.0 468.7L14.0 468.2L15.0 467.8L16.7 467.0L18.0 466.3L19.0 465.7L20.0 465.0L21.5 464.0L22.9 463.0L24.0 462.3L25.0 461.6L26.0 460.8L27.2 460.0L28.6 459.0L30.0 458.0L31.0 457.2L32.0 456.4L33.0 455.6L34.0 454.7L35.0 453.8L36.0 452.7L37.0 451.6L38.0 450.3L39.0 449.0L39.6 448.0L40.2 447.0L41.0 445.6L41.8 444.0L42.3 443.0L43.0 441.3L43.5 440.0L44.0 438.7L44.6 437.0L45.0 435.8L45.5 434.0L46.0 432.4L46.4 431.0L46.9 429.0L47.1 428.0L47.5 426.0L47.9 424.0L48.1 423.0L48.5 421.0L48.8 419.0L49.0 417.5L49.2 416.0L49.4 414.0L49.6 412.0L49.8 410.0L49.9 408.0L50.0 406.8L50.1 405.0L50.1 403.0L50.2 401.0L50.2 399.0L50.1 397.0L50.1 395.0L50.0 393.5L49.9 392.0L49.8 390.0L49.7 388.0L49.6 386.0L49.5 384.0L49.5 382.0L49.5 380.0L49.7 378.0L50.0 376.4L51.0 375.4L52.8 376.0L54.0 377.0L54.9 378.0L55.8 379.0M-4.0 463.6L-3.0 464.9L-2.1 466.0L-1.2 467.0L-0.2 468.0L0.9 469.0L2.0 469.9L3.0 470.6L4.0 471.3L5.2 472.0L7.0 472.8L8.0 473.1L10.0 473.4L12.0 473.4L13.9 473.0L15.0 472.6L16.4 472.0L18.0 471.2L19.0 470.5L20.0 469.9L21.3 469.0L22.7 468.0L24.0 467.0L25.0 466.3L26.0 465.6L27.0 464.8L28.2 464.0L29.6 463.0L30.9 462.0L32.0 461.2L33.0 460.4L34.0 459.6L35.0 458.7L36.0 457.7L37.0 456.7L38.0 455.6L39.0 454.3L39.9 453.0L40.6 452.0L41.2 451.0L42.0 449.5L42.8 448.0L43.2 447.0L44.0 445.3L44.5 444.0L45.0 442.7L45.6 441.0L46.0 439.9L46.6 438.0L47.0 436.7L47.5 435.0L48.0 433.1L48.3 432.0L48.8 430.0L49.0 429.0L49.4 427.0L49.9 425.0L50.1 424.0L50.4 422.0L50.8 420.0L51.0 418.8L51.3 417.0L51.6 415.0L51.9 413.0L52.0 412.0L52.3 410.0L52.5 408.0L52.8 406.0L53.0 404.0L53.1 403.0L53.4 401.0L53.6 399.0L53.9 397.0L54.1 396.0L54.7 394.0L55.3 393.0M-4.0 468.4L-3.0 469.5L-2.0 470.6L-1.0 471.6L0.0 472.6L1.0 473.5L2.0 474.3L3.0 475.1L4.4 476.0L6.0 476.9L7.0 477.3L9.0 478.0L10.0 478.2L12.0 478.3L14.0 478.0L15.0 477.7L16.7 477.0L18.0 476.3L19.0 475.7L20.1 475.0L21.5 474.0L22.8 473.0L24.0 472.1L25.0 471.4L26.0 470.6L27.0 469.9L28.1 469.0L29.5 468.0L30.9 467.0L32.0 466.2L33.0 465.4L34.0 464.6L35.0 463.8L36.0 462.9L37.0 462.0L38.0 460.9L39.0 459.8L40.0 458.5L41.0 457.1L41.7 456.0L42.3 455.0L43.0 453.7L43.8 452.0L44.3 451.0L45.0 449.4L45.5 448.0L46.0 446.8L46.7 445.0L47.0 444.0L47.6 442.0L48.0 440.9L48.5 439.0L49.0 437.4L49.4 436.0L49.9 434.0L50.2 433.0L50.7 431.0L51.0 429.6L51.4 428.0L51.8 426.0L52.0 425.0L52.5 423.0L52.9 421.0L53.1 420.0L53.5 418.0L53.9 416.0L54.1 415.0L54.6 413.0L55.0 411.0L55.3 410.0L55.8 408.0M-4.0 472.9L-3.0 474.0L-2.1 475.0L-1.1 476.0L-0.0 477.0L1.0 477.9L2.0 478.7L3.0 479.5L4.0 480.3L5.1 481.0L6.9 482.0L8.0 482.5L9.4 483.0L11.0 483.4L13.0 483.5L15.0 483.2L16.0 482.9L17.9 482.0L19.0 481.4L20.0 480.7L21.0 480.0L22.3 479.0L23.6 478.0L24.8 477.0L26.0 476.1L27.0 475.3L28.0 474.5L29.0 473.8L30.0 473.0L31.3 472.0L32.7 471.0L34.0 470.0L35.0 469.2L36.0 468.4L37.0 467.5L38.0 466.6L39.0 465.5L40.0 464.4L41.0 463.1L41.7 462.0L42.4 461.0L43.0 460.0L44.0 458.1L44.5 457.0L45.0 456.0L45.9 454.0L46.3 453.0L47.0 451.1L47.4 450.0L48.0 448.2L48.4 447.0L49.0 445.1L49.3 444.0L49.9 442.0L50.2 441.0L50.7 439.0L51.0 438.0L51.5 436.0L52.0 434.2L52.3 433.0L52.8 431.0L53.1 430.0L53.6 428.0L54.0 426.3L54.3 425.0L54.8 423.0L55.1 422.0L55.6 420.0L56.0 418.7M23.9 484.0L25.0 483.1L26.0 482.2L27.0 481.4L28.0 480.5L29.0 479.7L30.0 478.9L31.2 478.0L32.5 477.0L33.9 476.0L35.0 475.1L36.0 474.4L37.0 473.5L38.0 472.7L39.0 471.7L40.0 470.7L41.0 469.5L42.0 468.2L42.8 467.0L43.4 466.0L44.0 465.0L45.0 463.1L45.5 462.0L46.0 460.9L46.8 459.0L47.2 458.0L47.9 456.0L48.3 455.0L48.9 453.0L49.3 452.0L49.9 450.0L50.2 449.0L50.8 447.0L51.0 446.0L51.6 444.0L52.0 442.5L52.4 441.0L52.9 439.0L53.2 438.0L53.7 436.0L54.0 435.0L54.5 433.0L55.0 431.3L55.4 430.0L55.9 428.0M-4.0 477.4L-3.0 478.5L-2.0 479.5L-1.0 480.5L0.0 481.5L1.0 482.4L2.0 483.3M32.0 484.0L33.0 483.2L34.0 482.4L35.0 481.7L36.0 480.9L37.2 480.0L38.4 479.0L39.5 478.0L40.5 477.0L41.4 476.0L42.3 475.0L43.0 474.0L44.0 472.5L44.9 471.0L45.4 470.0L46.0 468.8L46.8 467.0L47.2 466.0L48.0 464.0L48.4 463.0L49.0 461.1L49.4 460.0L50.0 458.0L50.3 457.0L50.9 455.0L51.2 454.0L51.7 452.0L52.0 450.9L52.5 449.0L53.0 447.2L53.3 446.0L53.9 444.0L54.1 443.0L54.7 441.0L55.0 439.7L55.5 438.0L56.0 436.2M41.1 484.0L42.1 483.0L43.0 481.9L44.0 480.7L45.0 479.2L45.7 478.0L46.3 477.0L47.0 475.5L47.7 474.0L48.1 473.0L48.8 471.0L49.2 470.0L49.8 468.0L50.2 467.0L50.7 465.0L51.0 464.0L51.6 462.0L52.0 460.4L52.4 459.0L52.9 457.0L53.1 456.0L53.6 454.0L54.0 452.5L54.4 451.0L54.9 449.0L55.1 448.0L55.6 446.0L56.0 444.7M47.5 484.0L48.0 483.0L48.9 481.0L49.3 480.0L50.0 478.2L50.4 477.0L51.0 475.1L51.3 474.0L51.9 472.0L52.1 471.0L52.6 469.0L53.0 467.5L53.4 466.0L53.8 464.0L54.0 463.0L54.5 461.0L54.9 459.0L55.2 458.0L55.6 456.0L56.0 454.3M51.8 484.0L52.2 483.0L52.8 481.0L53.0 480.0L53.6 478.0L54.0 476.2L54.3 475.0L54.7 473.0L55.0 471.6L55.3 470.0L55.7 468.0L56.0 466.6" stroke="#dad8d5" stroke-width=".75"/>
</g></svg>
<svg class="abs" style="left:1046px;top:121px" width="54" height="434" viewBox="1046 121 54 434">
<path d="M1046 252L1100 212V430L1046 394.5Z" fill="#edebe9"/>
<path d="M1046 394.5L1100 430V511L1046 490Z" fill="#e9e7e5"/>
<path d="M1046 490L1100 511V555H1046Z" fill="#eceae8"/>
</svg>
<div class="abs" style="left:51px;top:84px;width:995px;height:480px;background:#faf9f8;box-shadow:0 4px 14px rgba(0,0,0,.16)"></div>
<svg class="abs" style="left:51px;top:77px;border-radius:3px 3px 0 0" width="994" height="7" viewBox="0 0 994 7"><rect width="994" height="8" fill="#ab7885"/>
<path d="M-10.5 0.0L8.5 0.0L10.5 7.0L-15.0 7.0Z" fill="#ecc9d3"/>
<path d="M8.5 0.0L30.2 0.0L28.5 7.0L10.5 7.0Z" fill="#7a4955"/>
<path d="M30.2 0.0L34.6 0.0L32.5 7.0L28.5 7.0Z" fill="#e8577e"/>
<path d="M34.6 0.0L46.0 0.0L48.5 7.0L32.5 7.0Z" fill="#693a46"/>
<path d="M46.0 0.0L62.0 0.0L59.0 7.0L48.5 7.0Z" fill="#a06673"/>
<path d="M62.0 0.0L79.0 0.0L77.0 7.0L59.0 7.0Z" fill="#cdacb5"/>
<path d="M79.0 0.0L229.0 0.0L229.0 7.0L77.0 7.0Z" fill="#7f4f5b"/>
<path d="M62.0 7L63.5 0M65.8 7L68.2 0M69.0 7L71.4 0M71.5 0L72.9 7M74.1 0L77.1 7M76.8 7L79.4 0" stroke="#6c3e49" stroke-width="1.2" fill="none"/>
<path d="M81.3 0L83.3 7M85.8 7L88.9 0M88.9 7L90.3 0M91.9 1C93.5 1 91.4 5 93.5 6.5M95.6 0L97.6 7M99.2 7L100.6 0M102.1 0L103.1 7L104.2 0M105.2 0L107.4 7M108.2 0L109.6 7L111.0 0M111.2 0L113.5 7M115.5 0L116.4 7L117.3 0M120.0 7L122.2 0M124.1 7L126.4 0M126.6 0L128.0 7L129.5 0M130.3 1C132.1 1 129.8 5 132.1 6.5M134.2 0L136.7 7M137.6 1C140.9 1 137.1 5 140.9 6.5M141.0 0L141.7 7L142.4 0M145.0 0L148.4 7M149.2 7L151.2 0M153.1 7L155.3 0M155.8 7L157.2 0M159.9 7L161.7 0M163.2 1C164.6 1 162.7 5 164.6 6.5M166.6 0L169.7 7M170.8 1C172.6 1 170.3 5 172.6 6.5M174.1 0L177.2 7M178.6 7L180.2 0M181.5 7L183.8 0M185.2 7L186.4 0M188.5 0L191.0 7M193.0 0L194.2 7L195.3 0M196.8 0L197.4 7L198.1 0M201.2 0L202.7 7L204.3 0M205.3 0L207.4 7M207.9 0L209.3 7M210.5 7L212.0 0M213.6 7L214.8 0M216.4 7L218.4 0M218.8 1C221.4 1 218.3 5 221.4 6.5M221.5 7L223.5 0M224.7 7L227.8 0" stroke="#b98a96" stroke-width="1.1" fill="none" opacity=".85"/>
<path d="M229.0 0.0L249.0 0.0L249.0 7.0L229.0 7.0Z" fill="#b07d8a"/>
<path d="M245.0 7C248.0 5 250.0 2.6 254.0 2.6C258.0 2.6 261.0 4.4 265.0 4.3C268.0 4.2 270.0 2 272.5 2C275.0 2 277.0 5 279.0 7Z" fill="#f0cf6b"/>
<path d="M284.0 7.0L289.6 1.4L295.4 7.0Z" fill="#6c3e49"/>
<path d="M291.0 0.0L301.0 0.0L298.5 7.0L295.4 7.0L290.5 2.0Z" fill="#ba8793"/>
<path d="M301.0 0.0L309.0 0.0L310.6 7.0L298.5 7.0Z" fill="#6c3e49"/>
<path d="M309.0 0.0L314.0 0.0L316.4 7.0L310.6 7.0Z" fill="#c99ca8"/>
<path d="M335.5 0.0L347.0 0.0L361.0 7.0L337.5 7.0Z" fill="#f0cf6b"/>
<path d="M347.0 0.0L378.0 0.0L372.0 7.0L361.0 7.0Z" fill="#a06c7a"/>
<path d="M353.0 0L366.0 7M359.0 0L370.0 6M365.0 0L373.0 4.5" stroke="#b58491" stroke-width="1.6" fill="none"/>
<path d="M378.0 0.0L380.0 0.0L374.0 7.0L372.0 7.0Z" fill="#f0cf6b"/>
<path d="M380.0 0.0L381.5 0.0L389.7 7.0L374.0 7.0Z" fill="#9a6573"/>
<path d="M381.5 0.0L387.0 0.0L394.0 7.0L389.7 7.0Z" fill="#f0cf6b"/>
<path d="M409.5 0.0L428.5 0.0L430.5 7.0L405.0 7.0Z" fill="#ecc9d3"/>
<path d="M428.5 0.0L450.2 0.0L448.5 7.0L430.5 7.0Z" fill="#7a4955"/>
<path d="M450.2 0.0L454.6 0.0L452.5 7.0L448.5 7.0Z" fill="#e8577e"/>
<path d="M454.6 0.0L466.0 0.0L468.5 7.0L452.5 7.0Z" fill="#693a46"/>
<path d="M466.0 0.0L482.0 0.0L479.0 7.0L468.5 7.0Z" fill="#a06673"/>
<path d="M482.0 0.0L499.0 0.0L497.0 7.0L479.0 7.0Z" fill="#cdacb5"/>
<path d="M499.0 0.0L649.0 0.0L649.0 7.0L497.0 7.0Z" fill="#7f4f5b"/>
<path d="M482.0 7L483.5 0M485.8 7L488.2 0M489.0 7L491.4 0M491.5 0L492.9 7M494.1 0L497.1 7M496.8 7L499.4 0" stroke="#6c3e49" stroke-width="1.2" fill="none"/>
<path d="M501.3 0L503.3 7M505.8 7L508.9 0M508.9 7L510.3 0M511.9 1C513.5 1 511.4 5 513.5 6.5M515.6 0L517.6 7M519.2 7L520.6 0M522.1 0L523.1 7L524.2 0M525.2 0L527.4 7M528.2 0L529.6 7L531.0 0M531.2 0L533.5 7M535.5 0L536.4 7L537.3 0M540.0 7L542.2 0M544.1 7L546.4 0M546.6 0L548.0 7L549.5 0M550.3 1C552.1 1 549.8 5 552.1 6.5M554.2 0L556.7 7M557.6 1C560.9 1 557.1 5 560.9 6.5M561.0 0L561.7 7L562.4 0M565.0 0L568.4 7M569.2 7L571.2 0M573.1 7L575.3 0M575.8 7L577.2 0M579.9 7L581.7 0M583.2 1C584.6 1 582.7 5 584.6 6.5M586.6 0L589.7 7M590.8 1C592.6 1 590.3 5 592.6 6.5M594.1 0L597.2 7M598.6 7L600.2 0M601.5 7L603.8 0M605.2 7L606.4 0M608.5 0L611.0 7M613.0 0L614.2 7L615.3 0M616.8 0L617.4 7L618.1 0M621.2 0L622.7 7L624.3 0M625.3 0L627.4 7M627.9 0L629.3 7M630.5 7L632.0 0M633.6 7L634.8 0M636.4 7L638.4 0M638.8 1C641.4 1 638.3 5 641.4 6.5M641.5 7L643.5 0M644.7 7L647.8 0" stroke="#b98a96" stroke-width="1.1" fill="none" opacity=".85"/>
<path d="M649.0 0.0L669.0 0.0L669.0 7.0L649.0 7.0Z" fill="#b07d8a"/>
<path d="M665.0 7C668.0 5 670.0 2.6 674.0 2.6C678.0 2.6 681.0 4.4 685.0 4.3C688.0 4.2 690.0 2 692.5 2C695.0 2 697.0 5 699.0 7Z" fill="#f0cf6b"/>
<path d="M704.0 7.0L709.6 1.4L715.4 7.0Z" fill="#6c3e49"/>
<path d="M711.0 0.0L721.0 0.0L718.5 7.0L715.4 7.0L710.5 2.0Z" fill="#ba8793"/>
<path d="M721.0 0.0L729.0 0.0L730.6 7.0L718.5 7.0Z" fill="#6c3e49"/>
<path d="M729.0 0.0L734.0 0.0L736.4 7.0L730.6 7.0Z" fill="#c99ca8"/>
<path d="M755.5 0.0L767.0 0.0L781.0 7.0L757.5 7.0Z" fill="#f0cf6b"/>
<path d="M767.0 0.0L798.0 0.0L792.0 7.0L781.0 7.0Z" fill="#a06c7a"/>
<path d="M773.0 0L786.0 7M779.0 0L790.0 6M785.0 0L793.0 4.5" stroke="#b58491" stroke-width="1.6" fill="none"/>
<path d="M798.0 0.0L800.0 0.0L794.0 7.0L792.0 7.0Z" fill="#f0cf6b"/>
<path d="M800.0 0.0L801.5 0.0L809.7 7.0L794.0 7.0Z" fill="#9a6573"/>
<path d="M801.5 0.0L807.0 0.0L814.0 7.0L809.7 7.0Z" fill="#f0cf6b"/>
<path d="M829.5 0.0L848.5 0.0L850.5 7.0L825.0 7.0Z" fill="#ecc9d3"/>
<path d="M848.5 0.0L870.2 0.0L868.5 7.0L850.5 7.0Z" fill="#7a4955"/>
<path d="M870.2 0.0L874.6 0.0L872.5 7.0L868.5 7.0Z" fill="#e8577e"/>
<path d="M874.6 0.0L886.0 0.0L888.5 7.0L872.5 7.0Z" fill="#693a46"/>
<path d="M886.0 0.0L902.0 0.0L899.0 7.0L888.5 7.0Z" fill="#a06673"/>
<path d="M902.0 0.0L919.0 0.0L917.0 7.0L899.0 7.0Z" fill="#cdacb5"/>
<path d="M919.0 0.0L1069.0 0.0L1069.0 7.0L917.0 7.0Z" fill="#7f4f5b"/>
<path d="M902.0 7L903.5 0M905.8 7L908.2 0M909.0 7L911.4 0M911.5 0L912.9 7M914.1 0L917.1 7M916.8 7L919.4 0" stroke="#6c3e49" stroke-width="1.2" fill="none"/>
<path d="M921.3 0L923.3 7M925.8 7L928.9 0M928.9 7L930.3 0M931.9 1C933.5 1 931.4 5 933.5 6.5M935.6 0L937.6 7M939.2 7L940.6 0M942.1 0L943.1 7L944.2 0M945.2 0L947.4 7M948.2 0L949.6 7L951.0 0M951.2 0L953.5 7M955.5 0L956.4 7L957.3 0M960.0 7L962.2 0M964.1 7L966.4 0M966.6 0L968.0 7L969.5 0M970.3 1C972.1 1 969.8 5 972.1 6.5M974.2 0L976.7 7M977.6 1C980.9 1 977.1 5 980.9 6.5M981.0 0L981.7 7L982.4 0M985.0 0L988.4 7M989.2 7L991.2 0M993.1 7L995.3 0M995.8 7L997.2 0M999.9 7L1001.7 0M1003.2 1C1004.6 1 1002.7 5 1004.6 6.5M1006.6 0L1009.7 7M1010.8 1C1012.6 1 1010.3 5 1012.6 6.5M1014.1 0L1017.2 7M1018.6 7L1020.2 0M1021.5 7L1023.8 0M1025.2 7L1026.4 0M1028.5 0L1031.0 7M1033.0 0L1034.2 7L1035.3 0M1036.8 0L1037.4 7L1038.1 0M1041.2 0L1042.7 7L1044.3 0M1045.3 0L1047.4 7M1047.9 0L1049.3 7M1050.5 7L1052.0 0M1053.6 7L1054.8 0M1056.4 7L1058.4 0M1058.8 1C1061.4 1 1058.3 5 1061.4 6.5M1061.5 7L1063.5 0M1064.7 7L1067.8 0" stroke="#b98a96" stroke-width="1.1" fill="none" opacity=".85"/>
<path d="M1069.0 0.0L1089.0 0.0L1089.0 7.0L1069.0 7.0Z" fill="#b07d8a"/>
<path d="M1085.0 7C1088.0 5 1090.0 2.6 1094.0 2.6C1098.0 2.6 1101.0 4.4 1105.0 4.3C1108.0 4.2 1110.0 2 1112.5 2C1115.0 2 1117.0 5 1119.0 7Z" fill="#f0cf6b"/>
<path d="M1124.0 7.0L1129.6 1.4L1135.4 7.0Z" fill="#6c3e49"/>
<path d="M1131.0 0.0L1141.0 0.0L1138.5 7.0L1135.4 7.0L1130.5 2.0Z" fill="#ba8793"/>
<path d="M1141.0 0.0L1149.0 0.0L1150.6 7.0L1138.5 7.0Z" fill="#6c3e49"/>
<path d="M1149.0 0.0L1154.0 0.0L1156.4 7.0L1150.6 7.0Z" fill="#c99ca8"/>
<path d="M1175.5 0.0L1187.0 0.0L1201.0 7.0L1177.5 7.0Z" fill="#f0cf6b"/>
<path d="M1187.0 0.0L1218.0 0.0L1212.0 7.0L1201.0 7.0Z" fill="#a06c7a"/>
<path d="M1193.0 0L1206.0 7M1199.0 0L1210.0 6M1205.0 0L1213.0 4.5" stroke="#b58491" stroke-width="1.6" fill="none"/>
<path d="M1218.0 0.0L1220.0 0.0L1214.0 7.0L1212.0 7.0Z" fill="#f0cf6b"/>
<path d="M1220.0 0.0L1221.5 0.0L1229.7 7.0L1214.0 7.0Z" fill="#9a6573"/>
<path d="M1221.5 0.0L1227.0 0.0L1234.0 7.0L1229.7 7.0Z" fill="#f0cf6b"/>
</svg>
<div class="abs" style="left:51px;top:158px;width:995px;height:1px;background:#ece9e6"></div>
<!-- top bar icons -->
<svg class="abs" style="left:0;top:0" width="100" height="21" viewBox="0 0 100 21"><path d="M5.3 2.7H17.7M5.3 6.2H17.7M5.3 9.6H17.7" stroke="#f1efed" stroke-width="1.15" fill="none"/></svg>
<svg class="abs" style="left:1010px;top:0" width="90" height="21" viewBox="0 0 90 21" fill="none">
<path d="M8 5.4L13.75 0.5L19.5 5.4V11.2H8Z" stroke="#fff" stroke-width="1.3" stroke-linejoin="miter"/>
<path d="M31.6 8.7C32.6 7.7 33.25 6.6 33.25 5V2.2C33.25 -0.4 34.8 -2.2 36.9 -2.2C39 -2.2 40.55 -0.4 40.55 2.2V5C40.55 6.6 41.2 7.7 42.2 8.7ZM31 8.7H42.8M34.9 9.9C35.1 11.1 35.9 11.7 36.9 11.7C37.9 11.7 38.7 11.1 38.9 9.9" stroke="#fff" stroke-width="1.15" stroke-linejoin="round"/>
<circle cx="42.1" cy="1.6" r="4.9" fill="#c74f14"/>
<path d="M66.1 0H82.1V12.4A2.2 2.2 0 0 1 79.9 14.6H68.3A2.2 2.2 0 0 1 66.1 12.4Z" fill="#fff"/>
</svg>
<svg class="abs" style="left:0;top:21px" width="1100" height="260" viewBox="0 21 1100 260" fill="none">
<rect x="908.9" y="32.75" width="50.8" height="20.35" rx="2.6" stroke="#a98b93"/>
<rect x="969" y="32.25" width="49" height="21.35" rx="3" fill="#fff"/>
<rect x="74.75" y="201.5" width="631.5" height="24.8" rx="2.6" fill="#fbfaf9" stroke="#96918d"/>
<rect x="148.75" y="243.8" width="56.5" height="20" rx="2.6" stroke="#d0cdc9"/>
<rect x="215.5" y="243.8" width="58.75" height="20" rx="2.6" fill="#fcfbfa" stroke="#9d9894"/>
<rect x="284.5" y="243.8" width="61.75" height="20" rx="2.6" fill="#fcfbfa" stroke="#9d9894"/>
<rect x="973.9" y="243.9" width="20.3" height="19.9" rx="2.6" fill="#fcfbfa" stroke="#9d9894"/>
</svg>
<!-- banner -->
<svg class="abs" style="left:78px;top:37px" width="9" height="12" viewBox="0 0 9 12" fill="none"><path d="M5.9 2.4L2.2 6.2L5.9 10" stroke="#fff" stroke-width="1.3"/></svg>
<svg class="abs" style="left:360px;top:30px" width="70" height="26" viewBox="360 30 70 26"><rect x="366" y="35.2" width="54" height="14.4" rx="7.2" fill="#6a9e36"/></svg>
<!-- tabs / search / toolbar -->
<div class="abs" style="left:179.5px;top:189.6px;width:145.5px;height:2.2px;background:#161513;border-radius:1.1px"></div>
<svg class="abs" style="left:684px;top:207px" width="14" height="14" viewBox="0 0 14 14" fill="none" stroke="#161513" stroke-width="1.05"><circle cx="6.05" cy="6" r="3.5"/><path d="M8.6 8.6L11.3 11.2"/></svg>
<svg class="abs" style="left:976px;top:246px" width="16" height="16" viewBox="0 0 16 16" fill="none" stroke="#161513" stroke-width="1.1"><path d="M7.65 3V9.6M4.9 7.2L7.65 9.9L10.4 7.2M3 9V12.4H12.8V9"/></svg>

<div class="hl" style="top:306px"></div>
<div class="hl" style="top:334px"></div>
<div class="hl" style="top:362px"></div>
<div class="hl" style="top:390px"></div>
<div class="hl" style="top:418px"></div>
<div class="hl" style="top:446px"></div>
<div class="hl" style="top:474px"></div>
<div class="hl" style="top:502px"></div>
<div class="hl" style="top:530px"></div>
<div class="cb" style="top:286px"></div>
<div class="cb" style="top:316px"></div>
<div class="st" style="top:316px"></div>
<svg class="a" style="left:130.2px;top:319.6px" width="6.4" height="3.6" viewBox="0 0 6.4 3.6"><path d="M0 0h6.4L3.2 3.6z" fill="#161513"/></svg>
<div class="cb" style="top:344px"></div>
<div class="st" style="top:344px"></div>
<svg class="a" style="left:139.6px;top:347.6px" width="6.4" height="3.6" viewBox="0 0 6.4 3.6"><path d="M0 0h6.4L3.2 3.6z" fill="#161513"/></svg>
<div class="cb" style="top:372px"></div>
<div class="st" style="top:372px"></div>
<svg class="a" style="left:148.9px;top:375.6px" width="6.4" height="3.6" viewBox="0 0 6.4 3.6"><path d="M0 0h6.4L3.2 3.6z" fill="#161513"/></svg>
<div class="cb" style="top:400px"></div>
<div class="st" style="top:400px"></div>
<svg class="a" style="left:158.3px;top:403.6px" width="6.4" height="3.6" viewBox="0 0 6.4 3.6"><path d="M0 0h6.4L3.2 3.6z" fill="#161513"/></svg>
<div class="cb" style="top:428px"></div>
<div class="st" style="top:428px"></div>
<svg class="a" style="left:158.3px;top:431.6px" width="6.4" height="3.6" viewBox="0 0 6.4 3.6"><path d="M0 0h6.4L3.2 3.6z" fill="#161513"/></svg>
<div class="cb" style="top:456px"></div>
<div class="st" style="top:456px"></div>
<svg class="a" style="left:158.3px;top:459.6px" width="6.4" height="3.6" viewBox="0 0 6.4 3.6"><path d="M0 0h6.4L3.2 3.6z" fill="#161513"/></svg>
<div class="cb" style="top:484px"></div>
<div class="st" style="top:484px"></div>
<svg class="a" style="left:158.3px;top:487.6px" width="6.4" height="3.6" viewBox="0 0 6.4 3.6"><path d="M0 0h6.4L3.2 3.6z" fill="#161513"/></svg>
<div class="cb" style="top:512px"></div>
<div class="st" style="top:512px"></div>
<svg class="a" style="left:158.3px;top:515.6px" width="6.4" height="3.6" viewBox="0 0 6.4 3.6"><path d="M0 0h6.4L3.2 3.6z" fill="#161513"/></svg>
<div class="cb" style="top:540px"></div>
<div class="st" style="top:540px"></div>
<svg class="a" style="left:158.3px;top:543.6px" width="6.4" height="3.6" viewBox="0 0 6.4 3.6"><path d="M0 0h6.4L3.2 3.6z" fill="#161513"/></svg>
<svg class="a" style="left:157.0px;top:287px" width="6" height="8.5" viewBox="0 0 6 8.5" fill="none" stroke="#1c1a18" stroke-width="1.05"><path d="M0.45 2.7L2.95 0.6L5.45 2.7M0.45 5.4L2.95 7.6L5.45 5.4"/></svg>
<svg class="a" style="left:478.0px;top:287px" width="6" height="8.5" viewBox="0 0 6 8.5" fill="none" stroke="#1c1a18" stroke-width="1.05"><path d="M0.45 2.7L2.95 0.6L5.45 2.7M0.45 5.4L2.95 7.6L5.45 5.4"/></svg>
<svg class="a" style="left:571.5px;top:287px" width="6" height="8.5" viewBox="0 0 6 8.5" fill="none" stroke="#1c1a18" stroke-width="1.05"><path d="M0.45 2.7L2.95 0.6L5.45 2.7M0.45 5.4L2.95 7.6L5.45 5.4"/></svg>
<svg class="a" style="left:701.5px;top:287px" width="6" height="8.5" viewBox="0 0 6 8.5" fill="none" stroke="#1c1a18" stroke-width="1.05"><path d="M0.45 2.7L2.95 0.6L5.45 2.7M0.45 5.4L2.95 7.6L5.45 5.4"/></svg>
<svg class="a" style="left:813.0px;top:287px" width="6" height="8.5" viewBox="0 0 6 8.5" fill="none" stroke="#1c1a18" stroke-width="1.05"><path d="M0.45 2.7L2.95 0.6L5.45 2.7M0.45 5.4L2.95 7.6L5.45 5.4"/></svg>
<svg class="a" style="left:944.5px;top:287px" width="6" height="8.5" viewBox="0 0 6 8.5" fill="none" stroke="#1c1a18" stroke-width="1.05"><path d="M0.45 2.7L2.95 0.6L5.45 2.7M0.45 5.4L2.95 7.6L5.45 5.4"/></svg>
<div class="t" style="left:0;top:3px;font-size:10.5px;line-height:10.5px;color:#ffffff;transform:translateX(27.51px) scaleX(1.3728);-webkit-text-stroke:0.12px #ffffff">ORACLE</div>
<div class="t" style="left:0;top:5px;font-size:6.4px;line-height:6.4px;color:#75706c;transform:translateX(1078.81px) scaleX(1.1543);-webkit-text-stroke:0.3px #75706c">HH</div>
<div class="t" style="left:0;top:1px;font-size:4.6px;line-height:4.6px;color:#ffffff;transform:translateX(1050.22px) scaleX(1.5000);font-weight:700">7</div>
<h1 class="t" style="left:0;top:35px;font-size:17px;line-height:17px;color:#ffffff;transform:translateX(96.92px) scaleX(0.9404);font-weight:700">Person Extract Changes_Only Run</h1>
<div class="t" style="left:0;top:57px;font-size:8.5px;line-height:8.5px;color:#ffffff;transform:translateX(97.61px) scaleX(0.9711);-webkit-text-stroke:0.42px #ffffff">Person Extract 23Feb2025</div>
<div class="t" style="left:0;top:39px;font-size:8.4px;line-height:8.4px;color:#1c2612;transform:translateX(373.51px) scaleX(0.9823);-webkit-text-stroke:0.05px #1c2612">Completed</div>
<div class="t" style="left:0;top:40px;font-size:8.2px;line-height:8.2px;color:#ffffff;transform:translateX(918.20px) scaleX(1.0016);-webkit-text-stroke:0.42px #ffffff">Rollback</div>
<div class="t" style="left:0;top:40px;font-size:8.2px;line-height:8.2px;color:#161513;transform:translateX(979.00px) scaleX(1.0090);-webkit-text-stroke:0.42px #161513">Refresh</div>
<div class="t" style="left:0;top:97px;font-size:7.5px;line-height:7.5px;color:#4f4a46;transform:translateX(79.74px) scaleX(0.9235);-webkit-text-stroke:0.12px #4f4a46">Flow Name</div>
<div class="t" style="left:0;top:107px;font-size:10px;line-height:10px;color:#161513;transform:translateX(79.49px) scaleX(0.9401);-webkit-text-stroke:0.12px #161513">Person Extract 23Feb2025</div>
<div class="t" style="left:0;top:126px;font-size:7.5px;line-height:7.5px;color:#4f4a46;transform:translateX(79.72px) scaleX(0.9589);-webkit-text-stroke:0.12px #4f4a46">Legislative Data Group</div>
<div class="t" style="left:0;top:97px;font-size:7.5px;line-height:7.5px;color:#4f4a46;transform:translateX(397.36px) scaleX(0.9438);-webkit-text-stroke:0.12px #4f4a46">Submitted By</div>
<div class="t" style="left:0;top:107px;font-size:10px;line-height:10px;color:#161513;transform:translateX(397.13px) scaleX(0.9310);-webkit-text-stroke:0.12px #161513">hcm.user@oracle.com</div>
<div class="t" style="left:0;top:126px;font-size:7.5px;line-height:7.5px;color:#4f4a46;transform:translateX(397.12px) scaleX(0.9500);-webkit-text-stroke:0.12px #4f4a46">Extract Task Name</div>
<div class="t" style="left:0;top:136px;font-size:10px;line-height:10px;color:#161513;transform:translateX(396.89px) scaleX(0.9427);-webkit-text-stroke:0.12px #161513">Person Extract 23Feb2025</div>
<div class="t" style="left:0;top:97px;font-size:7.5px;line-height:7.5px;color:#4f4a46;transform:translateX(714.96px) scaleX(0.9591);-webkit-text-stroke:0.12px #4f4a46">Submitted On</div>
<div class="t" style="left:0;top:107px;font-size:10px;line-height:10px;color:#161513;transform:translateX(714.68px) scaleX(1.0406);-webkit-text-stroke:0.12px #161513">2/23/26 5:34 AM</div>
<div class="t" style="left:0;top:174px;font-size:10px;line-height:10px;color:#4f4a46;transform:translateX(89.60px) scaleX(0.9906);-webkit-text-stroke:0.25px #4f4a46">Criteria</div>
<div class="t" style="left:0;top:174px;font-size:10px;line-height:10px;color:#161513;transform:translateX(217.37px) scaleX(0.9779);-webkit-text-stroke:0.42px #161513">Instance Details</div>
<div class="t" style="left:0;top:174px;font-size:10px;line-height:10px;color:#4f4a46;transform:translateX(382.12px) scaleX(0.9656);-webkit-text-stroke:0.25px #4f4a46">Changes Only Details</div>
<div class="t" style="left:0;top:174px;font-size:10px;line-height:10px;color:#4f4a46;transform:translateX(570.36px) scaleX(0.9901);-webkit-text-stroke:0.25px #4f4a46">Extract Delivery Options</div>
<div class="t" style="left:0;top:174px;font-size:10px;line-height:10px;color:#4f4a46;transform:translateX(771.87px) scaleX(0.9793);-webkit-text-stroke:0.25px #4f4a46">Diagnostics</div>
<div class="t" style="left:0;top:174px;font-size:10px;line-height:10px;color:#4f4a46;transform:translateX(917.36px) scaleX(0.9829);-webkit-text-stroke:0.25px #4f4a46">Extract Run Analysis</div>
<div class="t" style="left:0;top:210px;font-size:9.8px;line-height:9.8px;color:#66615d;transform:translateX(84.03px) scaleX(0.9333);-webkit-text-stroke:0.12px #66615d">Search by Name or Process ID</div>
<div class="t" style="left:0;top:250px;font-size:9.8px;line-height:9.8px;color:#161513;transform:translateX(102.25px) scaleX(1.0096);-webkit-text-stroke:0.42px #161513">0 items</div>
<div class="t" style="left:0;top:250px;font-size:8.6px;line-height:8.6px;color:#a6a29e;transform:translateX(158.26px) scaleX(0.9812);-webkit-text-stroke:0.12px #a6a29e">Download</div>
<div class="t" style="left:0;top:250px;font-size:8.8px;line-height:8.8px;color:#161513;transform:translateX(224.77px) scaleX(0.9583);-webkit-text-stroke:0.42px #161513">Expand All</div>
<div class="t" style="left:0;top:250px;font-size:8.8px;line-height:8.8px;color:#161513;transform:translateX(293.51px) scaleX(0.9624);-webkit-text-stroke:0.42px #161513">Collapse All</div>
<div class="t" style="left:0;top:287px;font-size:9.8px;line-height:9.8px;color:#161513;transform:translateX(124.01px) scaleX(0.9725);-webkit-text-stroke:0.42px #161513">Name</div>
<div class="t" style="left:0;top:287px;font-size:9.8px;line-height:9.8px;color:#161513;transform:translateX(425.78px) scaleX(0.9323);-webkit-text-stroke:0.42px #161513">Process ID</div>
<div class="t" style="left:0;top:287px;font-size:9.8px;line-height:9.8px;color:#161513;transform:translateX(537.26px) scaleX(0.9743);-webkit-text-stroke:0.42px #161513">Status</div>
<div class="t" style="left:0;top:287px;font-size:9.8px;line-height:9.8px;color:#161513;transform:translateX(636.01px) scaleX(0.9796);-webkit-text-stroke:0.42px #161513">Elapsed Time</div>
<div class="t" style="left:0;top:287px;font-size:9.8px;line-height:9.8px;color:#161513;transform:translateX(761.00px) scaleX(1.0068);-webkit-text-stroke:0.42px #161513">Start Time</div>
<div class="t" style="left:0;top:287px;font-size:9.8px;line-height:9.8px;color:#161513;transform:translateX(887.00px) scaleX(1.0061);-webkit-text-stroke:0.42px #161513">Finish Time</div>
<div class="t" style="left:0;top:317px;font-size:9.8px;line-height:9.8px;color:#161513;transform:translateX(140.04px) scaleX(0.9522);-webkit-text-stroke:0.12px #161513">FlowEssJobDefn</div>
<div class="t" style="left:0;top:317px;font-size:9.8px;line-height:9.8px;color:#161513;transform:translateX(425.99px) scaleX(1.0396);-webkit-text-stroke:0.12px #161513">36327</div>
<div class="t" style="left:0;top:320px;font-size:5.6px;line-height:5.6px;color:#35472a;transform:translateX(541.76px) scaleX(0.9759);font-weight:700">Succeeded</div>
<div class="t" style="left:0;top:317px;font-size:9.8px;line-height:9.8px;color:#161513;transform:translateX(636.25px) scaleX(1.0013);-webkit-text-stroke:0.12px #161513">00:00:32</div>
<div class="t" style="left:0;top:317px;font-size:9.8px;line-height:9.8px;color:#161513;transform:translateX(760.72px) scaleX(1.0683);-webkit-text-stroke:0.12px #161513">2/23/26 5:34 AM</div>
<div class="t" style="left:0;top:317px;font-size:9.8px;line-height:9.8px;color:#161513;transform:translateX(886.96px) scaleX(1.0719);-webkit-text-stroke:0.12px #161513">2/23/26 5:34 AM</div>
<div class="t" style="left:0;top:345px;font-size:9.8px;line-height:9.8px;color:#161513;transform:translateX(149.29px) scaleX(0.9506);-webkit-text-stroke:0.12px #161513">ElevatedFlowEssJobDefn</div>
<div class="t" style="left:0;top:345px;font-size:9.8px;line-height:9.8px;color:#161513;transform:translateX(425.99px) scaleX(1.0299);-webkit-text-stroke:0.12px #161513">36328</div>
<div class="t" style="left:0;top:348px;font-size:5.6px;line-height:5.6px;color:#35472a;transform:translateX(541.76px) scaleX(0.9759);font-weight:700">Succeeded</div>
<div class="t" style="left:0;top:345px;font-size:9.8px;line-height:9.8px;color:#161513;transform:translateX(636.25px) scaleX(1.0013);-webkit-text-stroke:0.12px #161513">00:00:25</div>
<div class="t" style="left:0;top:345px;font-size:9.8px;line-height:9.8px;color:#161513;transform:translateX(760.72px) scaleX(1.0683);-webkit-text-stroke:0.12px #161513">2/23/26 5:34 AM</div>
<div class="t" style="left:0;top:345px;font-size:9.8px;line-height:9.8px;color:#161513;transform:translateX(886.96px) scaleX(1.0719);-webkit-text-stroke:0.12px #161513">2/23/26 5:34 AM</div>
<div class="t" style="left:0;top:373px;font-size:9.8px;line-height:9.8px;color:#161513;transform:translateX(159.50px) scaleX(0.9626);-webkit-text-stroke:0.12px #161513">Archive Information and Generate Report</div>
<div class="t" style="left:0;top:373px;font-size:9.8px;line-height:9.8px;color:#161513;transform:translateX(425.99px) scaleX(1.0299);-webkit-text-stroke:0.12px #161513">36329</div>
<div class="t" style="left:0;top:376px;font-size:5.6px;line-height:5.6px;color:#35472a;transform:translateX(541.76px) scaleX(0.9759);font-weight:700">Succeeded</div>
<div class="t" style="left:0;top:373px;font-size:9.8px;line-height:9.8px;color:#161513;transform:translateX(636.25px) scaleX(1.0013);-webkit-text-stroke:0.12px #161513">00:00:19</div>
<div class="t" style="left:0;top:373px;font-size:9.8px;line-height:9.8px;color:#161513;transform:translateX(760.72px) scaleX(1.0683);-webkit-text-stroke:0.12px #161513">2/23/26 5:34 AM</div>
<div class="t" style="left:0;top:373px;font-size:9.8px;line-height:9.8px;color:#161513;transform:translateX(886.96px) scaleX(1.0719);-webkit-text-stroke:0.12px #161513">2/23/26 5:34 AM</div>
<div class="t" style="left:0;top:401px;font-size:9.8px;line-height:9.8px;color:#161513;transform:translateX(168.28px) scaleX(0.9422);-webkit-text-stroke:0.12px #161513">Subprocess</div>
<div class="t" style="left:0;top:401px;font-size:9.8px;line-height:9.8px;color:#161513;transform:translateX(425.99px) scaleX(1.0396);-webkit-text-stroke:0.12px #161513">36337</div>
<div class="t" style="left:0;top:404px;font-size:5.6px;line-height:5.6px;color:#35472a;transform:translateX(541.76px) scaleX(0.9759);font-weight:700">Succeeded</div>
<div class="t" style="left:0;top:401px;font-size:9.8px;line-height:9.8px;color:#161513;transform:translateX(636.25px) scaleX(1.0013);-webkit-text-stroke:0.12px #161513">00:00:09</div>
<div class="t" style="left:0;top:401px;font-size:9.8px;line-height:9.8px;color:#161513;transform:translateX(760.72px) scaleX(1.0683);-webkit-text-stroke:0.12px #161513">2/23/26 5:34 AM</div>
<div class="t" style="left:0;top:401px;font-size:9.8px;line-height:9.8px;color:#161513;transform:translateX(886.96px) scaleX(1.0719);-webkit-text-stroke:0.12px #161513">2/23/26 5:34 AM</div>
<div class="t" style="left:0;top:429px;font-size:9.8px;line-height:9.8px;color:#161513;transform:translateX(168.28px) scaleX(0.9422);-webkit-text-stroke:0.12px #161513">Subprocess</div>
<div class="t" style="left:0;top:429px;font-size:9.8px;line-height:9.8px;color:#161513;transform:translateX(425.99px) scaleX(1.0299);-webkit-text-stroke:0.12px #161513">36340</div>
<div class="t" style="left:0;top:432px;font-size:5.6px;line-height:5.6px;color:#35472a;transform:translateX(541.76px) scaleX(0.9759);font-weight:700">Succeeded</div>
<div class="t" style="left:0;top:429px;font-size:9.8px;line-height:9.8px;color:#161513;transform:translateX(636.25px) scaleX(1.0013);-webkit-text-stroke:0.12px #161513">00:00:09</div>
<div class="t" style="left:0;top:429px;font-size:9.8px;line-height:9.8px;color:#161513;transform:translateX(760.72px) scaleX(1.0683);-webkit-text-stroke:0.12px #161513">2/23/26 5:34 AM</div>
<div class="t" style="left:0;top:429px;font-size:9.8px;line-height:9.8px;color:#161513;transform:translateX(886.96px) scaleX(1.0719);-webkit-text-stroke:0.12px #161513">2/23/26 5:34 AM</div>
<div class="t" style="left:0;top:457px;font-size:9.8px;line-height:9.8px;color:#161513;transform:translateX(168.28px) scaleX(0.9422);-webkit-text-stroke:0.12px #161513">Subprocess</div>
<div class="t" style="left:0;top:457px;font-size:9.8px;line-height:9.8px;color:#161513;transform:translateX(425.99px) scaleX(1.0396);-webkit-text-stroke:0.12px #161513">36332</div>
<div class="t" style="left:0;top:460px;font-size:5.6px;line-height:5.6px;color:#35472a;transform:translateX(541.76px) scaleX(0.9759);font-weight:700">Succeeded</div>
<div class="t" style="left:0;top:457px;font-size:9.8px;line-height:9.8px;color:#161513;transform:translateX(636.25px) scaleX(1.0013);-webkit-text-stroke:0.12px #161513">00:00:09</div>
<div class="t" style="left:0;top:457px;font-size:9.8px;line-height:9.8px;color:#161513;transform:translateX(760.72px) scaleX(1.0683);-webkit-text-stroke:0.12px #161513">2/23/26 5:34 AM</div>
<div class="t" style="left:0;top:457px;font-size:9.8px;line-height:9.8px;color:#161513;transform:translateX(886.96px) scaleX(1.0719);-webkit-text-stroke:0.12px #161513">2/23/26 5:34 AM</div>
<div class="t" style="left:0;top:485px;font-size:9.8px;line-height:9.8px;color:#161513;transform:translateX(168.28px) scaleX(0.9422);-webkit-text-stroke:0.12px #161513">Subprocess</div>
<div class="t" style="left:0;top:485px;font-size:9.8px;line-height:9.8px;color:#161513;transform:translateX(425.99px) scaleX(1.0299);-webkit-text-stroke:0.12px #161513">36335</div>
<div class="t" style="left:0;top:488px;font-size:5.6px;line-height:5.6px;color:#35472a;transform:translateX(541.76px) scaleX(0.9759);font-weight:700">Succeeded</div>
<div class="t" style="left:0;top:485px;font-size:9.8px;line-height:9.8px;color:#161513;transform:translateX(636.25px) scaleX(1.0013);-webkit-text-stroke:0.12px #161513">00:00:10</div>
<div class="t" style="left:0;top:485px;font-size:9.8px;line-height:9.8px;color:#161513;transform:translateX(760.72px) scaleX(1.0683);-webkit-text-stroke:0.12px #161513">2/23/26 5:34 AM</div>
<div class="t" style="left:0;top:485px;font-size:9.8px;line-height:9.8px;color:#161513;transform:translateX(886.96px) scaleX(1.0719);-webkit-text-stroke:0.12px #161513">2/23/26 5:34 AM</div>
<div class="t" style="left:0;top:513px;font-size:9.8px;line-height:9.8px;color:#161513;transform:translateX(168.28px) scaleX(0.9422);-webkit-text-stroke:0.12px #161513">Subprocess</div>
<div class="t" style="left:0;top:513px;font-size:9.8px;line-height:9.8px;color:#161513;transform:translateX(425.99px) scaleX(1.0299);-webkit-text-stroke:0.12px #161513">36338</div>
<div class="t" style="left:0;top:516px;font-size:5.6px;line-height:5.6px;color:#35472a;transform:translateX(541.76px) scaleX(0.9759);font-weight:700">Succeeded</div>
<div class="t" style="left:0;top:513px;font-size:9.8px;line-height:9.8px;color:#161513;transform:translateX(636.25px) scaleX(1.0013);-webkit-text-stroke:0.12px #161513">00:00:09</div>
<div class="t" style="left:0;top:513px;font-size:9.8px;line-height:9.8px;color:#161513;transform:translateX(760.72px) scaleX(1.0683);-webkit-text-stroke:0.12px #161513">2/23/26 5:34 AM</div>
<div class="t" style="left:0;top:513px;font-size:9.8px;line-height:9.8px;color:#161513;transform:translateX(886.96px) scaleX(1.0719);-webkit-text-stroke:0.12px #161513">2/23/26 5:34 AM</div>
<div class="t" style="left:0;top:541px;font-size:9.8px;line-height:9.8px;color:#161513;transform:translateX(168.28px) scaleX(0.9422);-webkit-text-stroke:0.12px #161513">Subprocess</div>
<div class="t" style="left:0;top:541px;font-size:9.8px;line-height:9.8px;color:#161513;transform:translateX(425.99px) scaleX(1.0299);-webkit-text-stroke:0.12px #161513">36334</div>
<div class="t" style="left:0;top:544px;font-size:5.6px;line-height:5.6px;color:#35472a;transform:translateX(541.76px) scaleX(0.9759);font-weight:700">Succeeded</div>
<div class="t" style="left:0;top:541px;font-size:9.8px;line-height:9.8px;color:#161513;transform:translateX(636.25px) scaleX(1.0013);-webkit-text-stroke:0.12px #161513">00:00:09</div>
<div class="t" style="left:0;top:541px;font-size:9.8px;line-height:9.8px;color:#161513;transform:translateX(760.72px) scaleX(1.0683);-webkit-text-stroke:0.12px #161513">2/23/26 5:34 AM</div>
<div class="t" style="left:0;top:541px;font-size:9.8px;line-height:9.8px;color:#161513;transform:translateX(886.96px) scaleX(1.0719);-webkit-text-stroke:0.12px #161513">2/23/26 5:34 AM</div>
</body>
</html>
